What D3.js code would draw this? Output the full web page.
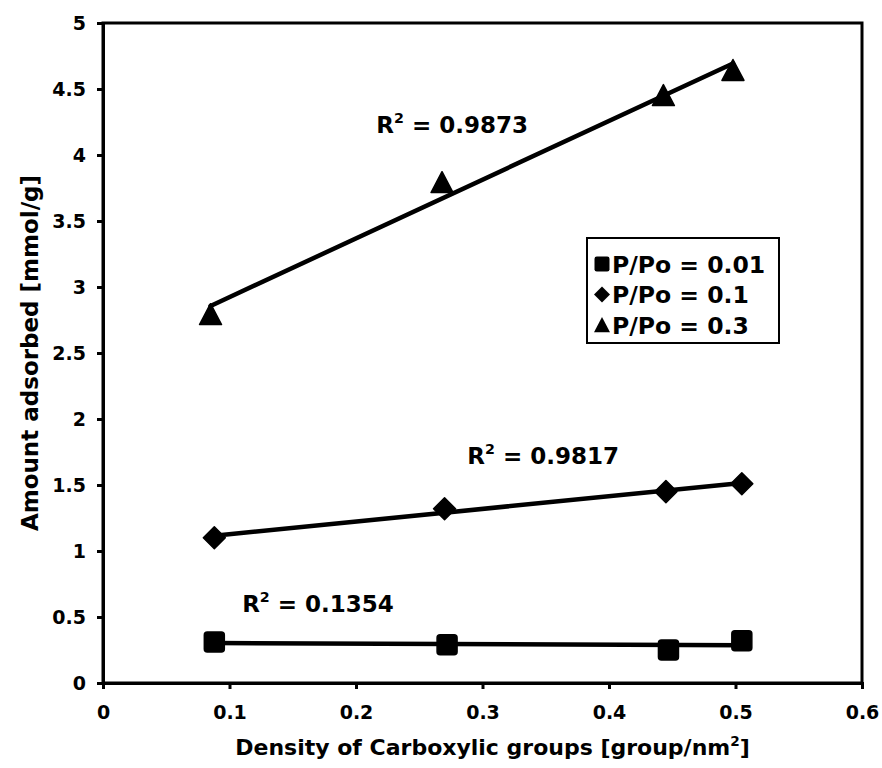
<!DOCTYPE html>
<html>
<head>
<meta charset="utf-8">
<script src="https://cdn.jsdelivr.net/npm/d3@7"></script>
<style>
  html, body { margin: 0; padding: 0; background: #fff; }
  svg { display: block; font-family: "DejaVu Sans", Arial, sans-serif; font-weight: bold; }
  text { fill: #000; }
</style>
</head>
<body>
<svg id="chart" width="882" height="768"></svg>
<script>
// Surface density of carboxylic groups [group/nm²] for each sample
const densityLow  = [0.088, 0.272, 0.447, 0.505];
const densityMid  = [0.088, 0.270, 0.445, 0.505];
const densityHigh = [0.085, 0.268, 0.443, 0.498];

// Amount adsorbed [mmol/g] at each relative pressure
const adsorbedLow  = [0.31, 0.29, 0.25, 0.32];
const adsorbedMid  = [1.10, 1.32, 1.45, 1.51];
const adsorbedHigh = [2.79, 3.79, 4.45, 4.64];

const seriesNames = ["P/Po = 0.01", "P/Po = 0.1", "P/Po = 0.3"];
const rSquaredValues = ["0.1354", "0.9817", "0.9873"];

const xTicks = [0, 0.1, 0.2, 0.3, 0.4, 0.5, 0.6];
const yTicks = [0, 0.5, 1, 1.5, 2, 2.5, 3, 3.5, 4, 4.5, 5];

const FONT = "'DejaVu Sans', Arial, sans-serif";

const series = [
  { name: seriesNames[0], xs: densityLow,  ys: adsorbedLow,  symbol: "square",   r2: rSquaredValues[0], labelAt: [0.110, 0.54] },
  { name: seriesNames[1], xs: densityMid,  ys: adsorbedMid,  symbol: "diamond",  r2: rSquaredValues[1], labelAt: [0.288, 1.66] },
  { name: seriesNames[2], xs: densityHigh, ys: adsorbedHigh, symbol: "triangle", r2: rSquaredValues[2], labelAt: [0.216, 4.17] }
];

const svg = d3.select("#chart");
const margin = { left: 103, right: 20, top: 23, bottom: 85 };
const W = 882, H = 768;

const x = d3.scaleLinear().domain([0, 0.6]).range([margin.left, W - margin.right]);
const y = d3.scaleLinear().domain([0, 5]).range([H - margin.bottom, margin.top]);

// plot frame
svg.append("rect")
  .attr("x", x(0)).attr("y", y(5))
  .attr("width", x(0.6) - x(0)).attr("height", y(0) - y(5))
  .attr("fill", "none").attr("stroke", "#000").attr("stroke-width", 3);

// axes
const xAxis = svg.append("g").attr("transform", `translate(0,${y(0)})`)
  .call(d3.axisBottom(x).tickValues(xTicks).tickFormat(d3.format("")).tickSize(6).tickPadding(14));
const yAxis = svg.append("g").attr("transform", `translate(${x(0)},0)`)
  .call(d3.axisLeft(y).tickValues(yTicks).tickFormat(d3.format("")).tickSize(6).tickPadding(11));
[xAxis, yAxis].forEach(g => {
  g.select(".domain").attr("stroke-width", 3);
  g.selectAll(".tick line").attr("stroke-width", 3);
  g.selectAll(".tick text").attr("font-size", 19).attr("font-weight", "bold")
    .attr("font-family", FONT).attr("fill", "#000");
});
xAxis.selectAll(".tick text").attr("dy", "0.85em");

// label with a superscript "2"
function supText(sel, before, after, size) {
  sel.attr("font-size", size);
  sel.append("tspan").text(before);
  sel.append("tspan").attr("font-size", size * 0.62).attr("dy", -size * 0.42).text("2");
  sel.append("tspan").attr("dy", size * 0.42).text(after);
}

// axis titles
supText(svg.append("text")
  .attr("x", (x(0) + x(0.6)) / 2 + 10).attr("y", 755)
  .attr("text-anchor", "middle"), "Density of Carboxylic groups [group/nm", "]", 22);

svg.append("text")
  .attr("transform", `translate(38,${(y(0) + y(5)) / 2}) rotate(-90)`)
  .attr("text-anchor", "middle").attr("font-size", 23)
  .text("Amount adsorbed [mmol/g]");

// marker shapes (drawn around the origin)
function markerPath(kind, s) {
  const h = s / 2;
  if (kind === "square") {
    const p = d3.path(), r = s * 0.15;
    p.moveTo(-h + r, -h); p.lineTo(h - r, -h); p.quadraticCurveTo(h, -h, h, -h + r);
    p.lineTo(h, h - r); p.quadraticCurveTo(h, h, h - r, h);
    p.lineTo(-h + r, h); p.quadraticCurveTo(-h, h, -h, h - r);
    p.lineTo(-h, -h + r); p.quadraticCurveTo(-h, -h, -h + r, -h); p.closePath();
    return p.toString();
  }
  if (kind === "diamond") return `M0,${-h}L${h},0L0,${h}L${-h},0Z`;
  return `M0,${-h}L${h},${h * 0.9}L${-h},${h * 0.9}Z`;
}
const markerSize = { square: 20, diamond: 22, triangle: 22 };

function fit(xs, ys) {
  const mx = d3.mean(xs), my = d3.mean(ys);
  const sxy = d3.sum(xs, (v, i) => (v - mx) * (ys[i] - my));
  const sxx = d3.sum(xs, v => (v - mx) ** 2);
  const slope = sxy / sxx;
  return { slope, intercept: my - slope * mx };
}

series.forEach(s => {
  const { slope, intercept } = fit(s.xs, s.ys);
  const [x0, x1] = d3.extent(s.xs);
  svg.append("line")
    .attr("x1", x(x0)).attr("y1", y(slope * x0 + intercept))
    .attr("x2", x(x1)).attr("y2", y(slope * x1 + intercept))
    .attr("stroke", "#000").attr("stroke-width", 4.5).attr("stroke-linecap", "round");

  svg.selectAll(null).data(s.xs.map((v, i) => [v, s.ys[i]])).enter()
    .append("path")
    .attr("d", markerPath(s.symbol, markerSize[s.symbol]))
    .attr("transform", d => `translate(${x(d[0])},${y(d[1])})`)
    .attr("fill", "#000").attr("stroke", "#000").attr("stroke-width", 1.5).attr("stroke-linejoin", "round");

  const [lx, ly] = s.labelAt;
  supText(svg.append("text").attr("x", x(lx)).attr("y", y(ly)), "R", " = " + s.r2, 23);
});

// legend
const lg = svg.append("g").attr("transform", "translate(587,238)");
lg.append("rect").attr("width", 192).attr("height", 105)
  .attr("fill", "#fff").attr("stroke", "#000").attr("stroke-width", 2);
series.forEach((s, i) => {
  const row = lg.append("g").attr("transform", `translate(0,${26 + i * 30.5})`);
  row.append("path").attr("d", markerPath(s.symbol, s.symbol === "square" ? 15 : 16))
    .attr("transform", "translate(15,0)").attr("fill", "#000");
  row.append("text").attr("x", 25).attr("y", 8.5).attr("font-size", 23.5).text(s.name);
});
</script>
</body>
</html>
